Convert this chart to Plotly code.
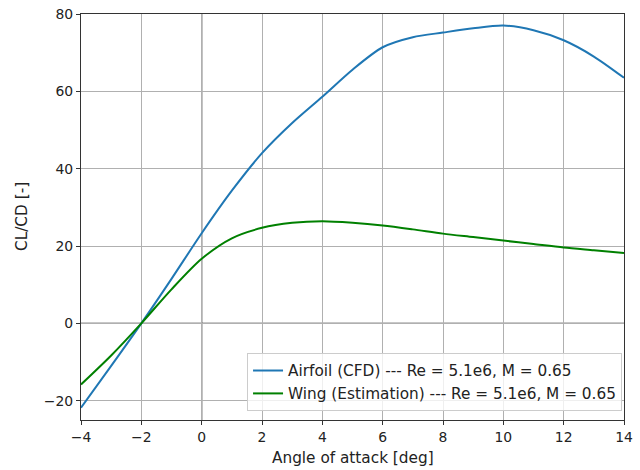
import plotly.graph_objects as go

alpha = [-4, -3, -2, -1, 0, 1, 2, 3, 4, 5, 6, 7, 8, 9, 10, 11, 12, 13, 14]
airfoil_ld = [-21.8, -11.0, 0.0, 11.5, 23.3, 34.3, 44.0, 51.8, 58.6, 65.6, 71.4, 74.0, 75.2, 76.3, 77.0, 75.8, 73.2, 69.0, 63.5]
wing_ld = [-15.8, -8.3, 0.0, 8.8, 16.7, 22.0, 24.7, 26.0, 26.4, 26.0, 25.3, 24.3, 23.2, 22.3, 21.4, 20.5, 19.6, 18.9, 18.2]

tick_font = dict(family="DejaVu Sans", size=13.9, color="#222222")
label_font = dict(family="DejaVu Sans", size=15.3, color="#222222")

fig = go.Figure()
fig.add_trace(go.Scatter(x=alpha, y=airfoil_ld, mode="lines", line=dict(color="#1f77b4", width=2, shape="spline", smoothing=0.8),
                         name="Airfoil (CFD) --- Re = 5.1e6, M = 0.65"))
fig.add_trace(go.Scatter(x=alpha, y=wing_ld, mode="lines", line=dict(color="#008000", width=2, shape="spline", smoothing=0.8),
                         name="Wing (Estimation) --- Re = 5.1e6, M = 0.65"))

fig.add_shape(type="line", x0=0, x1=0, y0=0, y1=1, xref="x", yref="paper", line=dict(color="#222222", width=1.2), layer="between")
fig.add_shape(type="line", x0=0, x1=1, y0=0, y1=0, xref="paper", yref="y", line=dict(color="#222222", width=1.2), layer="between")

fig.add_annotation(text="Angle of attack [deg]", xref="paper", yref="paper", x=0.5, y=0, yshift=-38,
                   xanchor="center", yanchor="middle", showarrow=False, font=label_font)
fig.add_annotation(text="CL/CD [-]", xref="paper", yref="paper", x=0, y=0.5, xshift=-59,
                   xanchor="center", yanchor="middle", textangle=-90, showarrow=False, font=label_font)

fig.update_layout(
    width=640, height=470,
    margin=dict(l=81, r=16, t=14, b=50),
    paper_bgcolor="white", plot_bgcolor="white",
    font=tick_font,
    showlegend=True,
    legend=dict(x=0.9964, y=0.022, xanchor="right", yanchor="bottom",
                bgcolor="rgba(255,255,255,0.8)", bordercolor="#cccccc", borderwidth=1,
                font=label_font, tracegroupgap=0, itemwidth=30),
)
fig.update_xaxes(range=[-4, 14], tickvals=[-4, -2, 0, 2, 4, 6, 8, 10, 12, 14],
                 ticktext=["\u22124", "\u22122", "0", "2", "4", "6", "8", "10", "12", "14"],
                 showgrid=True, gridcolor="#b0b0b0", gridwidth=1, zeroline=False,
                 showline=True, linecolor="#333333", linewidth=1.2, mirror=True,
                 ticks="outside", ticklen=4, tickcolor="#333333", automargin=False)
fig.update_yaxes(range=[-25, 80], tickvals=[-20, 0, 20, 40, 60, 80],
                 ticktext=["\u221220", "0", "20", "40", "60", "80"],
                 showgrid=True, gridcolor="#b0b0b0", gridwidth=1, zeroline=False,
                 showline=True, linecolor="#333333", linewidth=1.2, mirror=True,
                 ticks="outside", ticklen=4, tickcolor="#333333", automargin=False)

fig.write_html("out.html", config={"displayModeBar": False},
               post_script="document.body.style.margin='0';document.body.style.overflow='hidden';")
